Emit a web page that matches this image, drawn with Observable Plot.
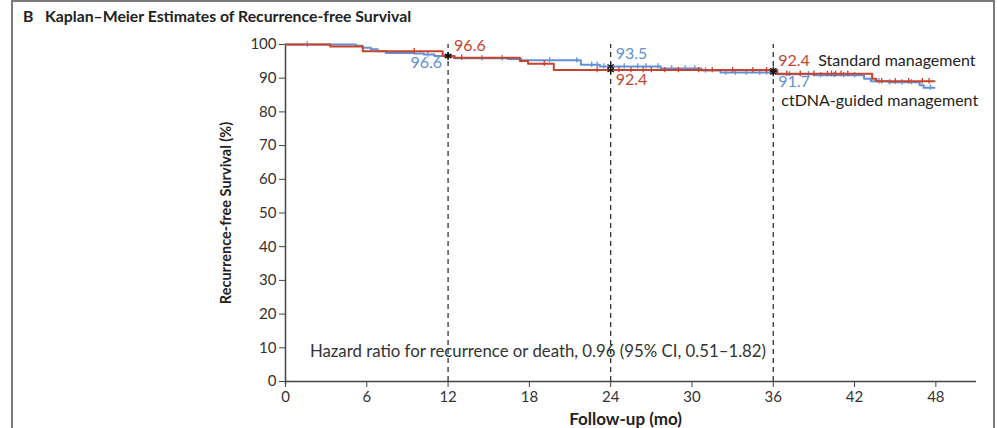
<!DOCTYPE html>
<html>
<head>
<meta charset="utf-8">
<script src="https://cdn.jsdelivr.net/npm/d3@7"></script>
<script src="https://cdn.jsdelivr.net/npm/@observablehq/plot@0.6"></script>
<style>
  body { margin: 0; background: #fff; font-family: Lato, "Open Sans", sans-serif; }
  #wrap { position: relative; width: 997px; height: 428px; overflow: hidden; background: #fff; }
  #frame { position: absolute; left: 11px; top: 0px; width: 980px; height: 460px; border: 2px solid #7a7a7a; border-bottom: none; }
  #title { position: absolute; left: 23px; top: 6px; font-weight: 700; font-size: 15.8px; color: #222; white-space: pre; }
  #chart { position: absolute; left: 0; top: 30px; }
</style>
</head>
<body>
<div id="wrap">
  <div id="frame"></div>
  <div id="title">B   Kaplan–Meier Estimates of Recurrence-free Survival</div>
  <div id="chart"></div>
</div>
<script>
// ---- data ----
const stdTimes = [0, 3.3, 5.7, 11.6, 12.4, 17.3, 17.9, 19.8, 36.3, 43.3, 43.6, 47.9];
const stdSurv  = [100, 99.4, 98.0, 96.6, 96.1, 95.1, 94.3, 92.4, 91.3, 89.8, 89.1, 89.1];
const ctTimes  = [0, 5.2, 5.7, 6.3, 6.8, 7.4, 9.5, 10.2, 11.0, 12.5, 16.4, 17.4, 21.8, 23.2, 27.7, 30.7, 32.1, 36.3, 39.0, 42.7, 43.2, 44.5, 46.8, 47.1, 47.9];
const ctSurv   = [100, 99.6, 99.0, 98.6, 98.0, 97.5, 97.3, 97.0, 96.6, 95.9, 95.7, 95.3, 94.0, 93.5, 92.9, 92.3, 91.7, 91.2, 90.9, 89.8, 89.1, 88.8, 87.9, 87.2, 87.2];
const stdCensor = [9.5, 13.0, 19.1, 23.0, 24.6, 25.5, 26.4, 27.0, 28.0, 29.0, 30.5, 31.5, 33.0, 34.5, 35.5, 37.0, 38.0, 39.0, 40.0, 40.3, 40.6, 41.0, 41.5, 44.0, 45.0, 46.0, 47.0, 47.5];
const ctCensor  = [1.6, 10.5, 14.5, 16.0, 19.5, 21.5, 22.6, 23.0, 23.5, 25.0, 26.0, 26.6, 27.5, 28.5, 29.5, 30.2, 31.0, 32.5, 33.2, 34.0, 35.0, 35.5, 37.2, 38.0, 38.6, 39.5, 40.5, 41.2, 42.0, 43.8, 44.6, 45.5, 46.2, 47.6];
const milestones = [12, 24, 36];
const stdEst = [96.6, 92.4, 92.4];
const ctEst  = [96.6, 93.5, 91.7];
const xTicks = [0, 6, 12, 18, 24, 30, 36, 42, 48];
const yTicks = [0, 10, 20, 30, 40, 50, 60, 70, 80, 90, 100];
const groupNames = ["Standard management", "ctDNA-guided management"];
const xLabel = "Follow-up (mo)";
const yLabel = "Recurrence-free Survival (%)";
const hazardText = "Hazard ratio for recurrence or death, 0.96 (95% CI, 0.51–1.82)";

// ---- build tables ----
const red = "#c6432d", blue = "#6290d6";
const stdCurve = stdTimes.map((t, i) => ({t, s: stdSurv[i]}));
const ctCurve = ctTimes.map((t, i) => ({t, s: ctSurv[i]}));
function survAt(times, surv, t) {
  let v = surv[0];
  for (let i = 0; i < times.length; i++) if (times[i] <= t) v = surv[i];
  return v;
}
const stdCens = stdCensor.map(t => ({t, s: survAt(stdTimes, stdSurv, t)}));
const ctCens = ctCensor.map(t => ({t, s: survAt(ctTimes, ctSurv, t)}));
const markPts = milestones.flatMap((m, i) => [{t: m, s: stdEst[i]}, {t: m, s: ctEst[i]}]);
const fmt = d3.format(".1f");
const fs = 16;

const font = "Lato, 'Open Sans', sans-serif";
const chart = Plot.plot({
  width: 997,
  height: 398,
  marginLeft: 285,
  marginRight: 21,
  marginTop: 14,
  marginBottom: 47,
  style: {fontFamily: font, fontSize: "15px", color: "#333", background: "transparent"},
  x: {domain: [0, 51]},
  y: {domain: [0, 100]},
  marks: [
    // dashed milestone lines
    Plot.ruleX(milestones, {x: d => d, y1: 0, y2: 100, stroke: "#333", strokeWidth: 1.3, strokeDasharray: "5,4"}),
    // axes
    Plot.ruleY([0], {stroke: "#444", strokeWidth: 1.5}),
    Plot.ruleX([0], {y1: -1, y2: 100, stroke: "#444", strokeWidth: 1.5}),
    Plot.axisX({ticks: xTicks, tickSize: 6, tickPadding: 4, label: null, fontSize: 15, stroke: "#444"}),
    Plot.axisY({ticks: yTicks, tickSize: 6, tickPadding: 3, label: null, fontSize: 15, stroke: "#444"}),
    // curves
    Plot.line(ctCurve, {x: "t", y: "s", curve: "step-after", stroke: blue, strokeWidth: 2}),
    Plot.ruleX(ctCens, {x: "t", y1: d => d.s - 0.8, y2: d => d.s + 0.8, stroke: blue, strokeWidth: 1.3}),
    Plot.line(stdCurve, {x: "t", y: "s", curve: "step-after", stroke: red, strokeWidth: 2}),
    Plot.ruleX(stdCens, {x: "t", y1: d => d.s - 0.8, y2: d => d.s + 0.8, stroke: red, strokeWidth: 1.3}),
    // milestone markers
    Plot.dot(markPts, {x: "t", y: "s", symbol: "asterisk", r: 3.5, stroke: "#111", strokeWidth: 1.3}),
    // estimate labels
    Plot.text([0], {x: milestones[0], y: stdEst[0], text: () => fmt(stdEst[0]), fill: red, textAnchor: "start", dx: 6, dy: -10, fontSize: fs}),
    Plot.text([0], {x: milestones[0], y: ctEst[0], text: () => fmt(ctEst[0]), fill: blue, textAnchor: "end", dx: -6, dy: 7, fontSize: fs}),
    Plot.text([0], {x: milestones[1], y: ctEst[1], text: () => fmt(ctEst[1]), fill: blue, textAnchor: "start", dx: 5, dy: -13, fontSize: fs}),
    Plot.text([0], {x: milestones[1], y: stdEst[1], text: () => fmt(stdEst[1]), fill: red, textAnchor: "start", dx: 5, dy: 10, fontSize: fs}),
    Plot.text([0], {x: milestones[2], y: stdEst[2], text: () => fmt(stdEst[2]), fill: red, textAnchor: "start", dx: 5, dy: -9, fontSize: fs}),
    Plot.text([0], {x: milestones[2], y: stdEst[2], text: () => groupNames[0], fill: "#222", textAnchor: "start", dx: 45, dy: -9, fontSize: fs}),
    Plot.text([0], {x: milestones[2], y: ctEst[2], text: () => fmt(ctEst[2]), fill: blue, textAnchor: "start", dx: 5, dy: 9, fontSize: fs}),
    Plot.text([0], {x: milestones[2], y: ctEst[2], text: () => groupNames[1], fill: "#222", textAnchor: "start", dx: 8, dy: 28, fontSize: fs}),
    // hazard ratio
    Plot.text([hazardText], {x: 1.8, y: 8.9, text: d => d, textAnchor: "start", fill: "#333", fontSize: 16.8}),
    // axis labels
    Plot.text([xLabel], {x: 25.1, frameAnchor: "bottom", lineAnchor: "middle", dy: 38, text: d => d, fontWeight: 700, fontSize: 17, fill: "#222"}),
    Plot.text([yLabel], {frameAnchor: "left", dx: -59, rotate: -90, textAnchor: "middle", text: d => d, fontWeight: 700, fontSize: 14.5, fill: "#222"})
  ]
});
document.getElementById("chart").appendChild(chart);
</script>
</body>
</html>
